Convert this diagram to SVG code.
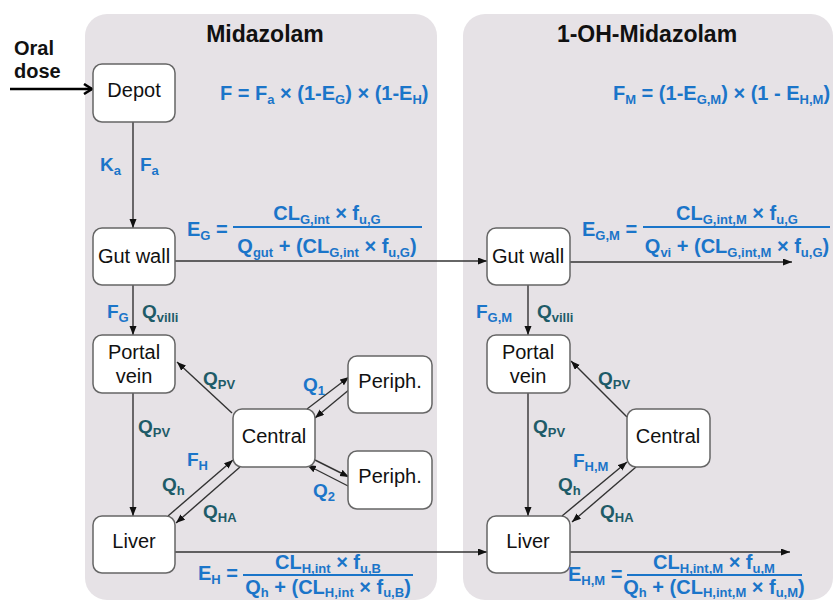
<svg xmlns="http://www.w3.org/2000/svg" width="834" height="603" viewBox="0 0 834 603">
<defs>
<marker id="ah" markerUnits="userSpaceOnUse" markerWidth="10" markerHeight="8" refX="9" refY="3.5" orient="auto">
<path d="M0,0 L9,3.5 L0,7 z" fill="#111"/>
</marker>
<marker id="ahb" markerUnits="userSpaceOnUse" markerWidth="12" markerHeight="12" refX="10" refY="6" orient="auto">
<path d="M2,1 L10,6 L2,11" fill="none" stroke="#000" stroke-width="2.5"/>
</marker>
<style>
.panel{fill:#e6e2e6;stroke:none}
.box{fill:#fff;stroke:#666;stroke-width:1.5}
.nt{font-family:"Liberation Sans",Arial,sans-serif;font-size:20px;fill:#111;text-anchor:middle}
.title{font-family:"Liberation Sans",Arial,sans-serif;font-size:23px;font-weight:bold;fill:#111;text-anchor:middle}
.oral{font-family:"Liberation Sans",Arial,sans-serif;font-size:20px;font-weight:bold;fill:#111}
.eq{font-family:"Liberation Sans",Arial,sans-serif;font-size:20px;font-weight:bold;fill:#1b75c9}
.lb{font-family:"Liberation Sans",Arial,sans-serif;font-size:19px;font-weight:bold;fill:#1b75c9}
.lt{font-family:"Liberation Sans",Arial,sans-serif;font-size:19px;font-weight:bold;fill:#1e5b68}
.s{font-size:13px}
.c{text-anchor:middle}
.ln{fill:none;stroke:#333;stroke-width:1.4;marker-end:url(#ah)}
.bar{stroke:#1b75c9;stroke-width:2}
</style>
</defs>
<rect class="panel" x="85" y="14" width="352" height="586" rx="22"/>
<rect class="panel" x="463" y="14" width="370" height="586" rx="22"/>
<text class="title" x="265" y="42">Midazolam</text>
<text class="title" x="647" y="42">1-OH-Midazolam</text>
<text class="oral" x="14" y="55">Oral</text>
<text class="oral" x="14" y="78">dose</text>

<g id="connectors">
<line x1="10" y1="89" x2="92" y2="89" stroke="#000" stroke-width="2.5" marker-end="url(#ahb)"/>
<line class="ln" x1="133" y1="122" x2="133" y2="228"/>
<line class="ln" x1="133" y1="285" x2="133" y2="335"/>
<line class="ln" x1="133" y1="393" x2="133" y2="516"/>
<line class="ln" x1="232" y1="413" x2="177" y2="362"/>
<line class="ln" x1="307" y1="409" x2="349" y2="377"/>
<line class="ln" x1="350" y1="389" x2="315" y2="418"/>
<line class="ln" x1="315" y1="460" x2="349" y2="477"/>
<line class="ln" x1="350" y1="487" x2="307" y2="465"/>
<line class="ln" x1="168" y1="516" x2="233" y2="460"/>
<line class="ln" x1="240" y1="467" x2="176" y2="523"/>
<line class="ln" x1="175" y1="261" x2="487" y2="261"/>
<line class="ln" x1="175" y1="552" x2="487" y2="552"/>
<line class="ln" x1="570" y1="262" x2="792" y2="262"/>
<line class="ln" x1="570" y1="552" x2="790" y2="552"/>
<line class="ln" x1="528" y1="285" x2="528" y2="335"/>
<line class="ln" x1="528" y1="393" x2="528" y2="516"/>
<line class="ln" x1="627" y1="417" x2="571" y2="361"/>
<line class="ln" x1="562" y1="516" x2="627" y2="462"/>
<line class="ln" x1="636" y1="467" x2="572" y2="522"/>
</g>

<g id="depot"><rect class="box" x="93" y="64" width="82" height="58" rx="9"/><text class="nt" x="134" y="97">Depot</text></g>
<g id="gutwall"><rect class="box" x="93" y="228" width="82" height="57" rx="9"/><text class="nt" x="134" y="263">Gut wall</text></g>
<g id="portalvein"><rect class="box" x="93" y="335" width="82" height="58" rx="9"/><text class="nt" x="134" y="359">Portal</text><text class="nt" x="134" y="383">vein</text></g>
<g id="central"><rect class="box" x="233" y="409" width="82" height="58" rx="9"/><text class="nt" x="274" y="443">Central</text></g>
<g id="periph1"><rect class="box" x="348" y="356" width="84" height="57" rx="9"/><text class="nt" x="390" y="388">Periph.</text></g>
<g id="periph2"><rect class="box" x="348" y="451" width="84" height="58" rx="9"/><text class="nt" x="390" y="483">Periph.</text></g>
<g id="liver"><rect class="box" x="93" y="516" width="82" height="57" rx="9"/><text class="nt" x="134" y="548">Liver</text></g>
<g id="gutwallM"><rect class="box" x="487" y="228" width="83" height="57" rx="9"/><text class="nt" x="528" y="263">Gut wall</text></g>
<g id="portalveinM"><rect class="box" x="487" y="335" width="83" height="58" rx="9"/><text class="nt" x="528" y="359">Portal</text><text class="nt" x="528" y="383">vein</text></g>
<g id="centralM"><rect class="box" x="627" y="409" width="83" height="58" rx="9"/><text class="nt" x="668" y="443">Central</text></g>
<g id="liverM"><rect class="box" x="487" y="516" width="83" height="57" rx="9"/><text class="nt" x="528" y="548">Liver</text></g>

<g id="labels">
<text class="lb" x="100" y="171">K<tspan class="s" dy="4">a</tspan></text>
<text class="lb" x="140" y="171">F<tspan class="s" dy="4">a</tspan></text>
<text class="lb" x="107" y="318">F<tspan class="s" dy="4">G</tspan></text>
<text class="lt" x="142" y="318">Q<tspan class="s" dy="4">villi</tspan></text>
<text class="lt" x="203" y="385">Q<tspan class="s" dy="4">PV</tspan></text>
<text class="lt" x="138" y="433">Q<tspan class="s" dy="4">PV</tspan></text>
<text class="lb" x="303" y="391">Q<tspan class="s" dy="4">1</tspan></text>
<text class="lb" x="313" y="497">Q<tspan class="s" dy="4">2</tspan></text>
<text class="lb" x="187" y="466">F<tspan class="s" dy="4">H</tspan></text>
<text class="lt" x="162" y="491">Q<tspan class="s" dy="4">h</tspan></text>
<text class="lt" x="203" y="518">Q<tspan class="s" dy="4">HA</tspan></text>
<text class="lb" x="476" y="318">F<tspan class="s" dy="4">G,M</tspan></text>
<text class="lt" x="537" y="318">Q<tspan class="s" dy="4">villi</tspan></text>
<text class="lt" x="598" y="385">Q<tspan class="s" dy="4">PV</tspan></text>
<text class="lt" x="533" y="433">Q<tspan class="s" dy="4">PV</tspan></text>
<text class="lb" x="573" y="467">F<tspan class="s" dy="4">H,M</tspan></text>
<text class="lt" x="558" y="491">Q<tspan class="s" dy="4">h</tspan></text>
<text class="lt" x="600" y="518">Q<tspan class="s" dy="4">HA</tspan></text>
</g>

<g id="equations">
<text class="eq" x="220" y="100">F = F<tspan class="s" dy="4">a</tspan><tspan dy="-4"> × (1-E</tspan><tspan class="s" dy="4">G</tspan><tspan dy="-4">) × (1-E</tspan><tspan class="s" dy="4">H</tspan><tspan dy="-4">)</tspan></text>
<text class="eq" x="613" y="100">F<tspan class="s" dy="4">M</tspan><tspan dy="-4"> = (1-E</tspan><tspan class="s" dy="4">G,M</tspan><tspan dy="-4">) × (1 - E</tspan><tspan class="s" dy="4">H,M</tspan><tspan dy="-4">)</tspan></text>

<text class="eq" x="187" y="236">E<tspan class="s" dy="4">G</tspan><tspan dy="-4"> =</tspan></text>
<text class="eq c" x="327" y="220">CL<tspan class="s" dy="4">G,int</tspan><tspan dy="-4"> × f</tspan><tspan class="s" dy="4">u,G</tspan></text>
<line class="bar" x1="233" y1="227" x2="422" y2="227"/>
<text class="eq c" x="327" y="253">Q<tspan class="s" dy="4">gut</tspan><tspan dy="-4"> + (CL</tspan><tspan class="s" dy="4">G,int</tspan><tspan dy="-4"> × f</tspan><tspan class="s" dy="4">u,G</tspan><tspan dy="-4">)</tspan></text>

<text class="eq" x="582" y="236">E<tspan class="s" dy="4">G,M</tspan><tspan dy="-4"> =</tspan></text>
<text class="eq c" x="737" y="220">CL<tspan class="s" dy="4">G,int,M</tspan><tspan dy="-4"> × f</tspan><tspan class="s" dy="4">u,G</tspan></text>
<line class="bar" x1="643" y1="227" x2="830" y2="227"/>
<text class="eq c" x="737" y="253">Q<tspan class="s" dy="4">vi</tspan><tspan dy="-4"> + (CL</tspan><tspan class="s" dy="4">G,int,M</tspan><tspan dy="-4"> × f</tspan><tspan class="s" dy="4">u,G</tspan><tspan dy="-4">)</tspan></text>

<text class="eq" x="198" y="580">E<tspan class="s" dy="4">H</tspan><tspan dy="-4"> =</tspan></text>
<text class="eq c" x="328" y="569">CL<tspan class="s" dy="4">H,int</tspan><tspan dy="-4"> × f</tspan><tspan class="s" dy="4">u,B</tspan></text>
<line class="bar" x1="243" y1="575" x2="413" y2="575"/>
<text class="eq c" x="328" y="594">Q<tspan class="s" dy="3">h</tspan><tspan dy="-3"> + (CL</tspan><tspan class="s" dy="3">H,int</tspan><tspan dy="-3"> × f</tspan><tspan class="s" dy="3">u,B</tspan><tspan dy="-3">)</tspan></text>

<text class="eq" x="568" y="581">E<tspan class="s" dy="4">H,M</tspan><tspan dy="-4"> =</tspan></text>
<text class="eq c" x="714" y="569">CL<tspan class="s" dy="4">H,int,M</tspan><tspan dy="-4"> × f</tspan><tspan class="s" dy="4">u,M</tspan></text>
<line class="bar" x1="627" y1="575" x2="802" y2="575"/>
<text class="eq c" x="714" y="594">Q<tspan class="s" dy="3">h</tspan><tspan dy="-3"> + (CL</tspan><tspan class="s" dy="3">H,int,M</tspan><tspan dy="-3"> × f</tspan><tspan class="s" dy="3">u,M</tspan><tspan dy="-3">)</tspan></text>
</g>
</svg>
